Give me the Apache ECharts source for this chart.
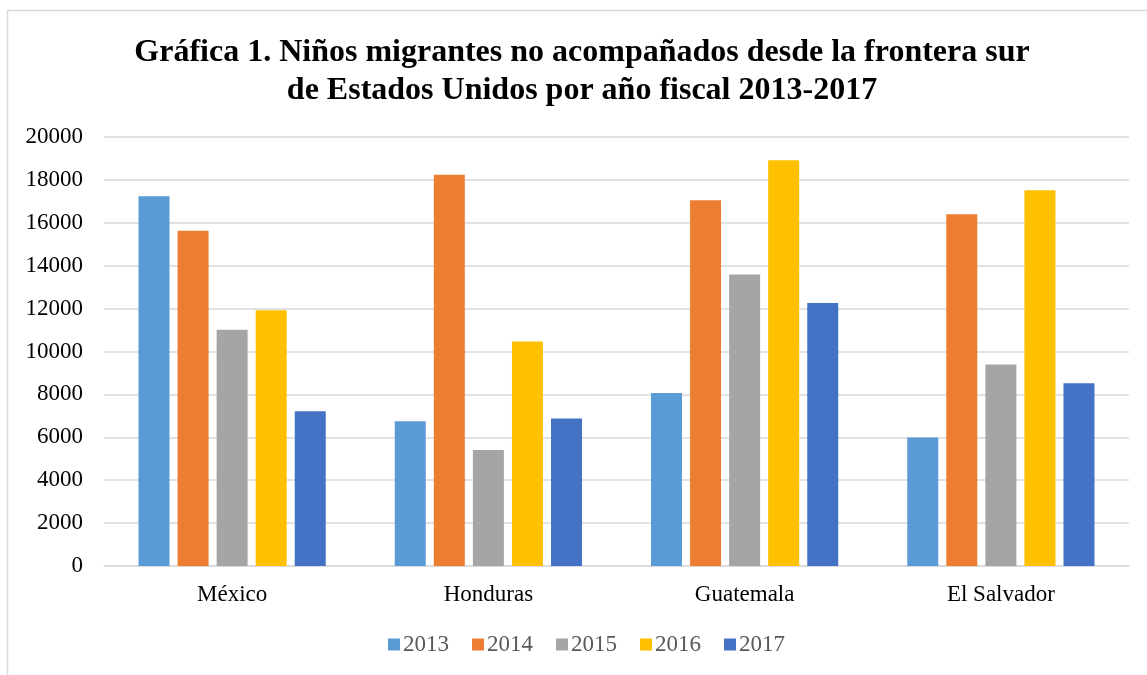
<!DOCTYPE html>
<html>
<head>
<meta charset="utf-8">
<script src="https://cdn.jsdelivr.net/npm/echarts@6/dist/echarts.min.js"></script>
<style>
  html, body { margin: 0; padding: 0; background: #fff; }
  #main { width: 1147px; height: 675px; }
</style>
</head>
<body>
<div id="main"></div>
<script>
var paises = ["México", "Honduras", "Guatemala", "El Salvador"];
var anios = ["2013", "2014", "2015", "2016", "2017"];
var colores = ["#5B9BD5", "#ED7D31", "#A5A5A5", "#FFC000", "#4472C4"];

var fy2013 = [17240, 6747, 8068, 5990];
var fy2014 = [15634, 18244, 17057, 16404];
var fy2015 = [11012, 5409, 13589, 9389];
var fy2016 = [11926, 10468, 18913, 17512];
var fy2017 = [7212, 6872, 12261, 8518];
var valores = [fy2013, fy2014, fy2015, fy2016, fy2017];

var fuente = "'Liberation Serif', 'Times New Roman', serif";

var chartDom = document.getElementById("main");
var myChart = echarts.init(chartDom);
var option;

option = {
  animation: false,
  title: {
    text: "Gráfica 1. Niños migrantes no acompañados desde la frontera sur\nde Estados Unidos por año fiscal 2013-2017",
    left: 582,
    top: 34,
    padding: 0,
    textAlign: "center",
    textStyle: {
      fontFamily: fuente,
      fontWeight: "bold",
      fontSize: 32,
      lineHeight: 38,
      color: "#000",
    },
  },
  legend: {
    data: anios,
    left: 388,
    top: 633,
    padding: 0,
    itemWidth: 12,
    itemHeight: 12,
    itemGap: 23,
    icon: "rect",
    textStyle: { fontFamily: fuente, fontSize: 23, color: "#595959", padding: [0, 0, 0, -2] },
  },
  grid: {
    left: 104,
    right: 18,
    top: 137,
    bottom: 109,
  },
  xAxis: {
    type: "category",
    data: paises,
    axisLine: { lineStyle: { color: "#d9d9d9", width: 1.5 } },
    axisTick: { show: false },
    axisLabel: { fontFamily: fuente, fontSize: 23, color: "#000", margin: 17 },
  },
  yAxis: {
    type: "value",
    min: 0,
    max: 20000,
    interval: 2000,
    axisLine: { show: false },
    axisTick: { show: false },
    splitLine: { lineStyle: { color: "#d9d9d9", width: 1.5 } },
    axisLabel: {
      fontFamily: fuente,
      fontSize: 23,
      color: "#000",
      margin: 21,
      formatter: function (v) { return String(v); },
    },
  },
  series: anios.map(function (a, i) {
    return {
      name: a,
      type: "bar",
      data: valores[i],
      barWidth: 31,
      barGap: "26%",
      itemStyle: { color: colores[i] },
    };
  }),
  graphic: [
    {
      type: "rect",
      shape: { x: 7.5, y: 10.5, width: 1200, height: 700 },
      style: { fill: "none", stroke: "#d9d9d9", lineWidth: 1.5 },
      silent: true,
    },
  ],
};

option && myChart.setOption(option);
</script>
</body>
</html>
